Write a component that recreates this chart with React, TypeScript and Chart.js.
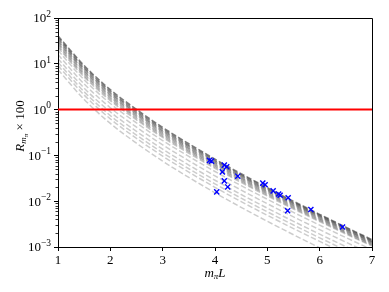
import { useEffect, useRef } from 'react';
import { Chart, registerables } from 'chart.js';

Chart.register(...registerables);

const FONT = '"Liberation Serif", "DejaVu Serif", serif';

// m_pi L grid of the curves
const xs = [1, 1.5, 2, 2.5, 3, 3.5, 4, 4.5, 5, 5.5, 6, 6.5, 7];

// dense (dark) band of curves
const band0 = [40.88, 9.162, 2.729, 1.009, 0.4083, 0.1799, 0.08279, 0.03981, 0.01972, 0.0100, 0.005176, 0.002716, 0.001449];
const band1 = [37.54, 8.441, 2.522, 0.9358, 0.3799, 0.1679, 0.07753, 0.03740, 0.01859, 0.009458, 0.004911, 0.002585, 0.001384];
const band2 = [34.48, 7.777, 2.331, 0.8680, 0.3535, 0.1568, 0.07261, 0.03514, 0.01752, 0.008945, 0.004660, 0.002461, 0.001321];
const band3 = [31.67, 7.165, 2.155, 0.8051, 0.3290, 0.1463, 0.06800, 0.03301, 0.01651, 0.008460, 0.004422, 0.002343, 0.001262];
const band4 = [29.08, 6.601, 1.992, 0.7467, 0.3061, 0.1366, 0.06368, 0.03102, 0.01556, 0.008002, 0.004196, 0.002230, 0.001205];
const band5 = [26.71, 6.081, 1.841, 0.6926, 0.2848, 0.1275, 0.05964, 0.02914, 0.01467, 0.007568, 0.003982, 0.002123, 0.001151];
const band6 = [24.53, 5.602, 1.702, 0.6424, 0.2650, 0.1190, 0.05585, 0.02738, 0.01382, 0.007158, 0.003778, 0.002021, 0.001099];
const band7 = [22.53, 5.161, 1.573, 0.5958, 0.2466, 0.1111, 0.05231, 0.02572, 0.01303, 0.006770, 0.003585, 0.001923, 0.001050];

// lighter, separated curves
const lightA = [19.57, 4.470, 1.357, 0.5116, 0.2110, 0.09479, 0.04446, 0.02179, 0.01101, 0.005689, 0.003002, 0.001605, 0.0008732];
const lightB = [15.90, 3.626, 1.099, 0.4134, 0.1702, 0.07630, 0.03572, 0.01748, 0.008809, 0.004545, 0.002393, 0.001278, 0.0006935];
const lightC = [12.93, 2.942, 0.8899, 0.3341, 0.1373, 0.06142, 0.02870, 0.01402, 0.007050, 0.003631, 0.001908, 0.001017, 0.0005509];
const lightD = [10.75, 2.447, 0.7401, 0.2779, 0.1142, 0.05109, 0.02388, 0.01166, 0.005865, 0.003020, 0.001588, 0.0008458, 0.0004582];
const lightE = [9.153, 2.079, 0.6277, 0.2352, 0.09648, 0.04309, 0.02009, 0.009793, 0.004916, 0.002527, 0.001326, 0.0007051, 0.0003811];
const lightF = [7.440, 1.670, 0.4986, 0.1846, 0.07488, 0.03305, 0.01524, 0.007341, 0.003644, 0.001851, 0.0009601, 0.0005046, 0.0002698];

const bandCurves = [band0, band1, band2, band3, band4, band5, band6, band7];
const bandAlphas = [0.5, 0.45, 0.4, 0.35, 0.31, 0.28, 0.25, 0.23];
const lightCurves = [lightA, lightB, lightC, lightD, lightE, lightF];

// blue lattice points
const pointsX = [3.895, 3.933, 4.178, 4.224, 4.140, 4.435, 4.178, 4.243, 4.033, 4.913, 4.958, 5.111, 5.216, 5.245, 5.398, 5.388, 5.832, 6.437];
const pointsY = [0.0778, 0.0750, 0.0614, 0.0564, 0.0436, 0.0352, 0.0278, 0.0205, 0.0160, 0.0248, 0.0229, 0.0168, 0.0144, 0.0135, 0.0119, 0.0062, 0.00658, 0.00274];

// red reference line
const redLineX = [1, 7];
const redLineY = [1, 1];

const xTicks = [1, 2, 3, 4, 5, 6, 7];
const yTickValues = [1e-3, 1e-2, 1e-1, 1, 10, 100];
const yTickBase = '10';
const yTickExponents = ['\u22123', '\u22122', '\u22121', '0', '1', '2'];
const yMinorDecades = [1e-3, 1e-2, 1e-1, 1, 10];
const yMinorMultipliers = [2, 3, 4, 5, 6, 7, 8, 9];

type Part = { t: string; f: string; dy: number };

function measure(ctx: CanvasRenderingContext2D, parts: Part[]) {
  let total = 0;
  for (const p of parts) {
    ctx.font = p.f;
    total += ctx.measureText(p.t).width;
  }
  return total;
}

function drawRich(ctx: CanvasRenderingContext2D, parts: Part[], x0: number, cy: number) {
  let x = x0;
  ctx.textBaseline = 'alphabetic';
  ctx.textAlign = 'left';
  for (const p of parts) {
    ctx.font = p.f;
    ctx.fillText(p.t, x, cy + p.dy);
    x += ctx.measureText(p.t).width;
  }
}

const decorPlugin = {
  id: 'decor',
  afterDraw(chart: any) {
    const { ctx, chartArea: a, scales } = chart;
    ctx.save();
    ctx.strokeStyle = '#000';
    ctx.lineWidth = 1;
    // top & right spines
    ctx.beginPath();
    ctx.moveTo(a.left, Math.round(a.top) + 0.5);
    ctx.lineTo(Math.round(a.right) + 0.5, Math.round(a.top) + 0.5);
    ctx.lineTo(Math.round(a.right) + 0.5, a.bottom);
    ctx.stroke();
    // minor ticks on log axis
    ctx.lineWidth = 0.8;
    ctx.beginPath();
    for (const d of yMinorDecades) {
      for (const m of yMinorMultipliers) {
        const y = Math.round(scales.y.getPixelForValue(d * m)) + 0.5;
        ctx.moveTo(a.left - 2.5, y);
        ctx.lineTo(a.left, y);
      }
    }
    ctx.stroke();
    ctx.fillStyle = '#000';
    // y tick labels 10^k
    yTickValues.forEach((v, i) => {
      const y = scales.y.getPixelForValue(v);
      const parts: Part[] = [
        { t: yTickBase, f: `13px ${FONT}`, dy: 0 },
        { t: yTickExponents[i], f: `9.5px ${FONT}`, dy: -5.5 },
      ];
      const w = measure(ctx, parts);
      drawRich(ctx, parts, a.left - 7 - w, y + 4.3);
    });
    // x title
    const xt: Part[] = [
      { t: 'm', f: `italic 13px ${FONT}`, dy: 0 },
      { t: '\u03C0', f: `italic 9px ${FONT}`, dy: 2.5 },
      { t: 'L', f: `italic 13px ${FONT}`, dy: 0 },
    ];
    drawRich(ctx, xt, (a.left + a.right) / 2 - measure(ctx, xt) / 2, 276.5);
    // y title
    ctx.translate(23.5, 126);
    ctx.rotate(-Math.PI / 2);
    const yt: Part[] = [
      { t: 'R', f: `italic 13px ${FONT}`, dy: 0 },
      { t: 'm', f: `italic 9px ${FONT}`, dy: 2.3 },
      { t: '\u03C0', f: `italic 7px ${FONT}`, dy: 4.2 },
      { t: ' \u00D7 100', f: `13px ${FONT}`, dy: 0 },
    ];
    drawRich(ctx, yt, -measure(ctx, yt) / 2, 0);
    ctx.restore();
  },
};

export default function App() {
  const ref = useRef<HTMLCanvasElement>(null);
  useEffect(() => {
    document.body.style.margin = '0';
    const mk = (c: number[], alpha: number) => ({
      type: 'line' as const,
      data: xs.map((x, i) => ({ x, y: c[i] })),
      borderColor: `rgba(0,0,0,${alpha})`,
      borderWidth: 1.5,
      borderDash: [5.5, 2.4],
      pointRadius: 0,
      cubicInterpolationMode: 'monotone' as const,
      fill: false,
      order: 3,
    });
    const chart = new Chart(ref.current!, {
      type: 'line',
      data: {
        datasets: [
          {
            data: pointsX.map((x, i) => ({ x, y: pointsY[i] })),
            showLine: false,
            pointStyle: 'crossRot',
            pointRadius: 3.6,
            pointBorderWidth: 1.4,
            borderColor: '#0000ff',
            backgroundColor: '#0000ff',
            order: 1,
          } as any,
          {
            data: redLineX.map((x, i) => ({ x, y: redLineY[i] })),
            borderColor: '#ff0000',
            borderWidth: 2,
            pointRadius: 0,
            order: 2,
          },
          ...bandCurves.map((c, k) => mk(c, bandAlphas[k])),
          ...lightCurves.map((c) => mk(c, 0.2)),
        ],
      },
      options: {
        responsive: false,
        animation: false,
        devicePixelRatio: 1,
        layout: { padding: { left: 0, top: 18, right: 17, bottom: 0 } },
        plugins: { legend: { display: false }, tooltip: { enabled: false } },
        scales: {
          x: {
            type: 'linear',
            min: 1,
            max: 7,
            afterFit: (s: any) => { s.height = 45; },
            afterBuildTicks: (s: any) => { s.ticks = xTicks.map((v) => ({ value: v })); },
            ticks: { color: '#000', font: { family: FONT, size: 13 }, padding: 2, maxRotation: 0, autoSkip: false, callback: (v: any) => String(v) },
            grid: { drawOnChartArea: false, drawTicks: true, tickLength: 4, tickColor: '#000', tickWidth: 1 },
            border: { display: true, color: '#000', width: 1 },
          },
          y: {
            type: 'logarithmic',
            min: 1e-3,
            max: 100,
            afterFit: (s: any) => { s.width = 58; },
            afterBuildTicks: (s: any) => { s.ticks = yTickValues.map((v) => ({ value: v })); },
            ticks: { display: false },
            grid: { drawOnChartArea: false, drawTicks: true, tickLength: 4, tickColor: '#000', tickWidth: 1 },
            border: { display: true, color: '#000', width: 1 },
          },
        },
      },
      plugins: [decorPlugin],
    });
    return () => chart.destroy();
  }, []);
  return <canvas ref={ref} width={389} height={292} style={{ display: 'block' }} />;
}
